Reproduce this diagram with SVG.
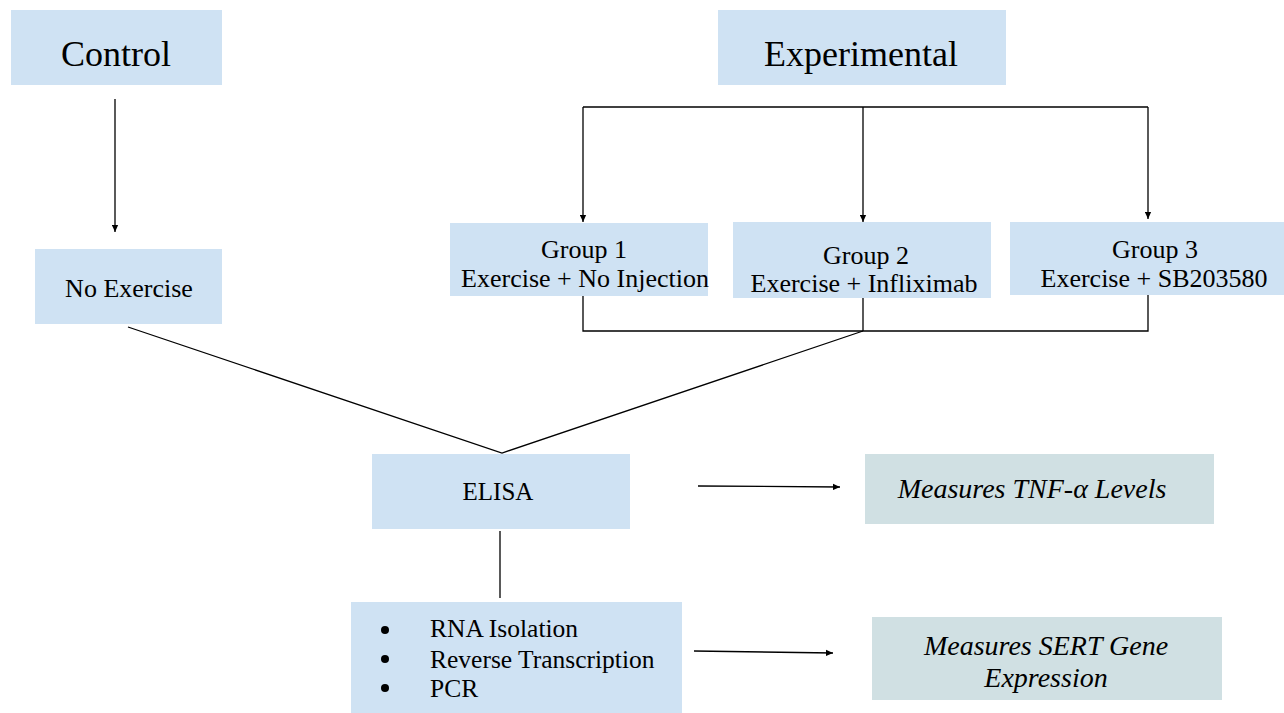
<svg xmlns="http://www.w3.org/2000/svg" width="1284" height="713" viewBox="0 0 1284 713">
<style>
.b{fill:#cfe2f3}
.g{fill:#d0e0e3}
text{font-family:"Liberation Serif","Times New Roman",serif;fill:#000;font-size:26px}
.c{text-anchor:middle}
.t{font-size:36px}
.i{font-style:italic;font-size:28px}
.l{stroke:#000;stroke-width:1.3;fill:none}
</style>
<defs>
<marker id="ah" viewBox="0 0 10 10" refX="10" refY="5" markerWidth="7" markerHeight="7" orient="auto" markerUnits="userSpaceOnUse"><path d="M0,0.5L10,5L0,9.5z" fill="#000"/></marker>
</defs>
<rect width="1284" height="713" fill="#fff"/>
<g id="control"><rect class="b" x="11" y="10" width="211" height="75"/><text class="c t" x="116" y="66">Control</text></g>
<g id="experimental"><rect class="b" x="718" y="10" width="288" height="75"/><text class="c t" x="861" y="66">Experimental</text></g>
<g id="noexercise"><rect class="b" x="35" y="249" width="187" height="75"/><text class="c" x="129" y="297">No Exercise</text></g>
<g id="group1"><rect class="b" x="450" y="223" width="258" height="73"/><text class="c" x="584" y="258">Group 1</text><text class="c" x="585" y="287">Exercise + No Injection</text></g>
<g id="group2"><rect class="b" x="733" y="222" width="258" height="76"/><text class="c" x="866" y="264">Group 2</text><text class="c" x="864" y="292">Exercise + Infliximab</text></g>
<g id="group3"><rect class="b" x="1010" y="222" width="274" height="73"/><text class="c" x="1155" y="258">Group 3</text><text class="c" x="1154" y="287">Exercise + SB203580</text></g>
<g id="elisa"><rect class="b" x="372" y="454" width="258" height="75"/><text class="c" x="498" y="500" style="font-size:25px">ELISA</text></g>
<g id="methods"><rect class="b" x="351" y="602" width="331" height="111"/>
<circle cx="385" cy="630" r="4" fill="#000"/><circle cx="385" cy="659" r="4" fill="#000"/><circle cx="385" cy="688" r="4" fill="#000"/>
<text x="430" y="637" style="font-size:25.5px">RNA Isolation</text><text x="430" y="668" style="font-size:25.5px">Reverse Transcription</text><text x="430" y="697" style="font-size:25.5px">PCR</text></g>
<g id="tnf"><rect class="g" x="865" y="454" width="349" height="70"/><text class="c i" x="1032" y="498">Measures TNF-α Levels</text></g>
<g id="sert"><rect class="g" x="872" y="617" width="350" height="83"/><text class="c i" x="1046" y="655">Measures SERT Gene</text><text class="c i" x="1046" y="687">Expression</text></g>
<g id="connectors">
<path class="l" d="M115,99V232" marker-end="url(#ah)"/>
<path class="l" d="M583,107H1148"/>
<path class="l" d="M583,107V222" marker-end="url(#ah)"/>
<path class="l" d="M863,107V222" marker-end="url(#ah)"/>
<path class="l" d="M1148,107V219" marker-end="url(#ah)"/>
<path class="l" d="M583,296V331H1148V295"/>
<path class="l" d="M863,298V331"/>
<path class="l" d="M128,327L502,453L863,331"/>
<path class="l" d="M500,531V598"/>
<path class="l" d="M698,486L840,487" marker-end="url(#ah)"/>
<path class="l" d="M694,651L833,653" marker-end="url(#ah)"/>
</g>
</svg>
